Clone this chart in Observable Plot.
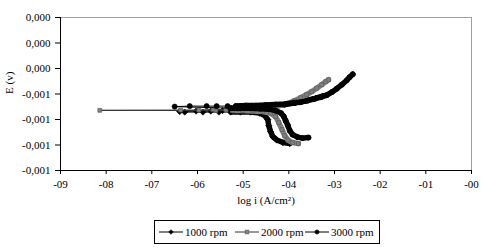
<!DOCTYPE html>
<html>
<head>
<meta charset="utf-8">
<script src="https://cdn.jsdelivr.net/npm/d3@7"></script>
<script src="https://cdn.jsdelivr.net/npm/@observablehq/plot@0.6"></script>
<style>
  html, body { margin: 0; padding: 0; background: #fff; }
  #wrap { position: relative; width: 489px; height: 249px; font-family: "Liberation Serif", "Times New Roman", serif; }
  #legend { position: absolute; left: 154px; top: 220px; width: 224px; height: 22px; border: 1px solid #000; box-sizing: content-box; }
  .item { position: absolute; top: 0; height: 22px; display: flex; align-items: center; font-size: 11px; color: #000; white-space: nowrap; }
  .item svg { display: block; margin-right: 2px; }
</style>
</head>
<body>
<div id="wrap"><div id="chart"></div><div id="legend"></div></div>
<script>
// ---- tick labels ----
const xTicks = [-9, -8, -7, -6, -5, -4, -3, -2, -1, 0];
const xTickLabels = ["-09", "-08", "-07", "-06", "-05", "-04", "-03", "-02", "-01", "-00"];
const yTicks = [0, -0.0002, -0.0004, -0.0006, -0.0008, -0.001, -0.0012];
const yTickLabels = ["0,000", "0,000", "0,000", "-0,001", "-0,001", "-0,001", "-0,001"];
const seriesNames = ["1000 rpm", "2000 rpm", "3000 rpm"];

// ---- 1000 rpm (log i, E) ----
const logI1000 = [-3.98, -4.13, -4.26, -4.35, -4.40, -4.44, -4.46, -4.53, -4.64, -4.84, -5.06, -5.27, -5.53, -5.88, -6.28, -6.39,
                  -6.03, -5.71, -5.45, -5.16, -4.88, -4.62, -4.35, -4.09, -3.85, -3.63, -3.41, -3.26];
const E1000 = [-0.000989, -0.000981, -0.000961, -0.000934, -0.000895, -0.000848, -0.000801, -0.000769, -0.000750, -0.000742, -0.000742, -0.000742, -0.000742, -0.000742, -0.000742, -0.000738,
               -0.000734, -0.000734, -0.000730, -0.000726, -0.000719, -0.000711, -0.000699, -0.000683, -0.000668, -0.000652, -0.000633, -0.000617];

// ---- 2000 rpm ----
const logI2000 = [-3.79, -3.92, -4.02, -4.09, -4.15, -4.22, -4.29, -4.40, -4.57, -4.79, -5.01, -5.23, -5.60, -8.14,
                  -6.37, -5.97, -5.66, -5.38, -5.10, -4.84, -4.57, -4.35, -4.15, -4.00, -3.87, -3.74, -3.61, -3.50, -3.39, -3.28, -3.19, -3.13];
const E2000 = [-0.000989, -0.000981, -0.000961, -0.000926, -0.000879, -0.000824, -0.000777, -0.000750, -0.000738, -0.000734, -0.000730, -0.000730, -0.000730, -0.000728,
               -0.000726, -0.000726, -0.000722, -0.000722, -0.000719, -0.000715, -0.000711, -0.000703, -0.000687, -0.000672, -0.000652, -0.000629, -0.000605, -0.000582, -0.000554, -0.000527, -0.000503, -0.000488];

// ---- 3000 rpm ----
const logI3000 = [-3.57, -3.70, -3.81, -3.92, -3.98, -4.02, -4.07, -4.11, -4.17, -4.29, -4.44, -4.62, -4.84, -5.06, -5.27, -6.50,
                  -6.17, -5.80, -5.58, -5.34, -5.16, -4.94, -4.72, -4.51, -4.29, -4.07, -3.89, -3.74, -3.59, -3.46, -3.30, -3.17, -3.06, -2.95, -2.84, -2.73, -2.67, -2.60];
const E3000 = [-0.000942, -0.000946, -0.000938, -0.000918, -0.000887, -0.000848, -0.000809, -0.000777, -0.000750, -0.000730, -0.000719, -0.000715, -0.000711, -0.000711, -0.000711, -0.000699,
               -0.000695, -0.000695, -0.000695, -0.000695, -0.000695, -0.000691, -0.000691, -0.000687, -0.000683, -0.000679, -0.000668, -0.000664, -0.000652, -0.000640, -0.000625, -0.000609, -0.000586, -0.000558, -0.000527, -0.000492, -0.000468, -0.000445];

const denseFrom = -5.3; // beyond this, markers merge into a solid band

const series = [
  {name: seriesNames[0], logI: logI1000, E: E1000, color: "#000", line: "#000", symbol: "diamond2", r: 2.8},
  {name: seriesNames[1], logI: logI2000, E: E2000, color: "#808080", line: "#333", symbol: "square", r: 2.2},
  {name: seriesNames[2], logI: logI3000, E: E3000, color: "#000", line: "#000", symbol: "circle", r: 2.6}
];

const marks = [
  Plot.frame({stroke: "#a0a0a0"}),
];
for (const s of series) {
  const rows = s.logI.map((x, i) => ({x, y: s.E[i]}));
  marks.push(
    Plot.line(rows, {x: "x", y: "y", stroke: s.line, strokeWidth: 1}),
    Plot.line(rows, {x: "x", y: d => d.x >= denseFrom ? d.y : NaN, stroke: s.color, strokeWidth: 5.5, strokeLinejoin: "round", strokeLinecap: "round"}),
    Plot.dot(rows, {x: "x", y: "y", symbol: s.symbol, r: s.r, fill: s.color, stroke: s.color === "#808080" ? "#555" : s.color, strokeWidth: 0.6})
  );
}
marks.push(
  Plot.ruleX([-9], {stroke: "#000", strokeWidth: 1}),
  Plot.ruleY([-0.0012], {stroke: "#000", strokeWidth: 1}),
  Plot.axisX({ticks: xTicks, tickFormat: (d, i) => xTickLabels[xTicks.indexOf(d)], tickSize: 4, tickPadding: 6, fontSize: 11, label: null}),
  Plot.axisY({ticks: yTicks, tickFormat: d => yTickLabels[yTicks.indexOf(d)], tickSize: 5, tickPadding: 5, fontSize: 11, label: null}),
  Plot.text(["log i (A/cm²)"], {frameAnchor: "bottom", dy: 33, fontSize: 11, text: d => d}),
  Plot.text(["E (v)"], {frameAnchor: "left", dx: -51, rotate: -90, fontSize: 11, text: d => d})
);

const chart = Plot.plot({
  width: 489,
  height: 218,
  marginTop: 17,
  marginBottom: 48,
  marginLeft: 60,
  marginRight: 18,
  style: {fontFamily: "'Liberation Serif', 'Times New Roman', serif", color: "#000", background: "#fff", overflow: "visible"},
  x: {domain: [-9, 0]},
  y: {domain: [-0.0012, 0]},
  marks
});
document.getElementById("chart").appendChild(chart);

// ---- legend ----
const legend = document.getElementById("legend");
const itemLeft = [4, 80, 150];
series.forEach((s, i) => {
  const div = document.createElement("div");
  div.className = "item";
  div.style.left = itemLeft[i] + "px";
  const sw = d3.create("svg").attr("width", 24).attr("height", 10);
  sw.append("line").attr("x1", 0).attr("x2", 24).attr("y1", 5).attr("y2", 5).attr("stroke", s.line).attr("stroke-width", 1);
  const symMap = {diamond2: d3.symbolDiamond2, square: d3.symbolSquare, circle: d3.symbolCircle};
  sw.append("path").attr("transform", "translate(12,5)")
    .attr("d", d3.symbol(symMap[s.symbol], 14)())
    .attr("fill", s.color).attr("stroke", s.color === "#808080" ? "#555" : s.color).attr("stroke-width", 0.6);
  div.appendChild(sw.node());
  const t = document.createElement("span");
  t.textContent = s.name;
  div.appendChild(t);
  legend.appendChild(div);
});
</script>
</body>
</html>
